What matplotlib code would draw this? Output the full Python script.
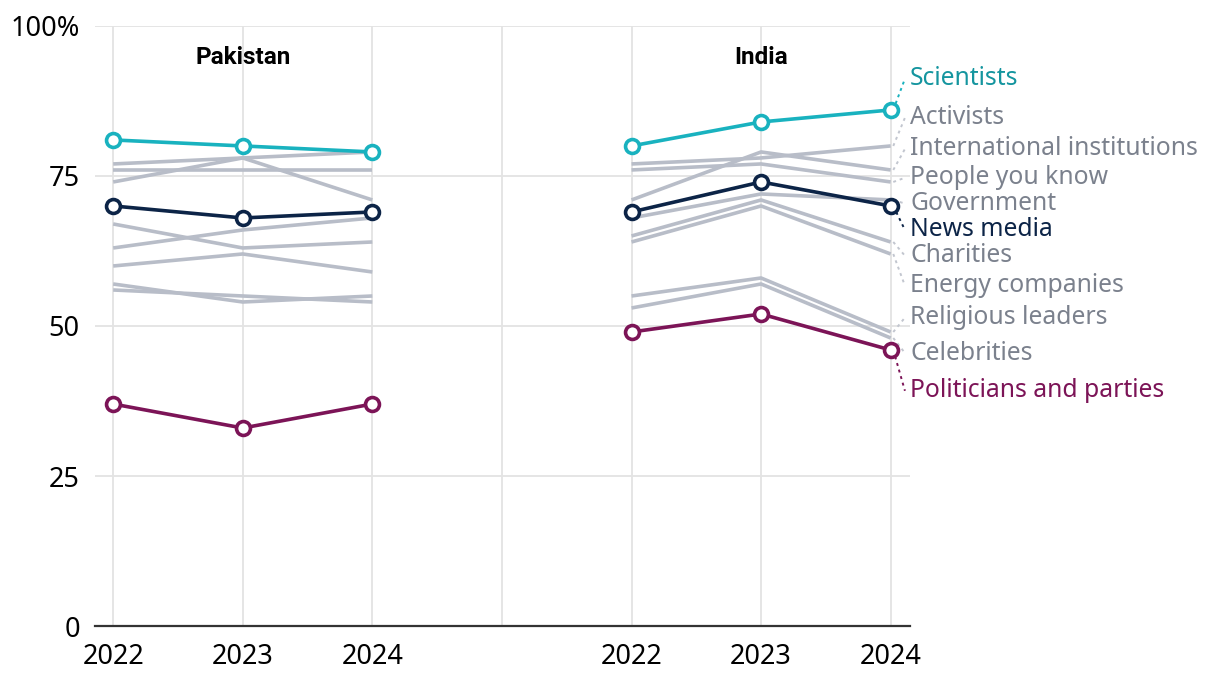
import matplotlib
matplotlib.use("Agg")
import matplotlib.pyplot as plt

# =============================================================================
# DATA
# =============================================================================
years = ["2022", "2023", "2024"]
countries = ["Pakistan", "India"]
categories = ["Scientists", "Activists", "International institutions",
              "People you know", "Government", "News media", "Charities",
              "Energy companies", "Religious leaders", "Celebrities",
              "Politicians and parties"]

pakistan = [
    [81, 80, 79],
    [77, 78, 79],
    [74, 78, 71],
    [76, 76, 76],
    [63, 66, 68],
    [70, 68, 69],
    [67, 63, 64],
    [60, 62, 59],
    [57, 54, 55],
    [56, 55, 54],
    [37, 33, 37],
]
india = [
    [80, 84, 86],
    [77, 78, 80],
    [71, 79, 76],
    [76, 77, 74],
    [68, 72, 71],
    [69, 74, 70],
    [65, 71, 64],
    [64, 70, 62],
    [55, 58, 49],
    [53, 57, 48],
    [49, 52, 46],
]

yticks = [0, 25, 50, 75, 100]
ytick_labels = ["0", "25", "50", "75", "100%"]

# label layout (data units) so end labels don't overlap
label_y = [91.2, 84.7, 79.5, 74.7, 70.4, 66.0, 61.7, 56.7, 51.4, 45.5, 39.2]

# =============================================================================
# STYLE
# =============================================================================
plt.rcParams['font.family'] = ['Noto Sans', 'DejaVu Sans']
GRAY = "#b8bdc8"
GRAY_TXT = "#7b818d"
GRID = "#e3e3e3"
highlight = {
    "Scientists": ("#19b2bf", "#14959f"),
    "News media": ("#0c2447", "#0c2447"),
    "Politicians and parties": ("#7c1457", "#7c1457"),
}

fig = plt.figure(figsize=(12.2, 6.82), dpi=100)
ax = fig.add_axes([0.078, 0.082, 0.668, 0.880])

x_pk = [0, 1, 2]
x_in = [4, 5, 6]

for x in range(7):
    ax.axvline(x, color=GRID, lw=1.3, zorder=0)
for y in yticks[1:]:
    ax.axhline(y, color=GRID, lw=1.3, zorder=0)

# gray lines first
for i, cat in enumerate(categories):
    if cat in highlight:
        continue
    ax.plot(x_pk, pakistan[i], color=GRAY, lw=2.6, zorder=2, solid_capstyle='butt')
    ax.plot(x_in, india[i], color=GRAY, lw=2.6, zorder=2, solid_capstyle='butt')

for i, cat in enumerate(categories):
    if cat not in highlight:
        continue
    c = highlight[cat][0]
    for xs, vals in ((x_pk, pakistan[i]), (x_in, india[i])):
        ax.plot(xs, vals, color=c, lw=2.6, zorder=4, marker='o', ms=10,
                mfc='white', mec=c, mew=2.6)

# end labels with dotted leaders
for i, cat in enumerate(categories):
    if cat in highlight:
        lc, tc = highlight[cat]
    else:
        lc, tc = "#c2c6cf", GRAY_TXT
    ax.plot([6.02, 6.11], [india[i][-1], label_y[i]], color=lc, lw=1.4,
            ls=(0, (1.5, 2)), clip_on=False, zorder=3)
    ax.text(6.15, label_y[i], cat, color=tc, fontsize=17.8, va='center',
            ha='left', clip_on=False)

# panel titles
for xc, name in zip([1, 5], countries):
    ax.text(xc, 94.7, name, ha='center', va='center', fontsize=17.5,
            fontweight='bold', color='black', family=['Roboto', 'DejaVu Sans'])

ax.set_xlim(-0.139, 6.15)
ax.set_ylim(0, 100)
ax.set_yticks(yticks)
ax.set_yticklabels(ytick_labels, fontsize=19.5)
ax.set_xticks(x_pk + x_in)
ax.set_xticklabels(years + years, fontsize=19.5)
ax.tick_params(axis='x', length=0, pad=12)
ax.tick_params(axis='y', length=0, pad=11)
for s in ['left', 'right', 'top']:
    ax.spines[s].set_visible(False)
ax.spines['bottom'].set_color('#333333')
ax.spines['bottom'].set_linewidth(1.6)
ax.spines['bottom'].set_zorder(5)

fig.savefig("out.png", dpi=100)
